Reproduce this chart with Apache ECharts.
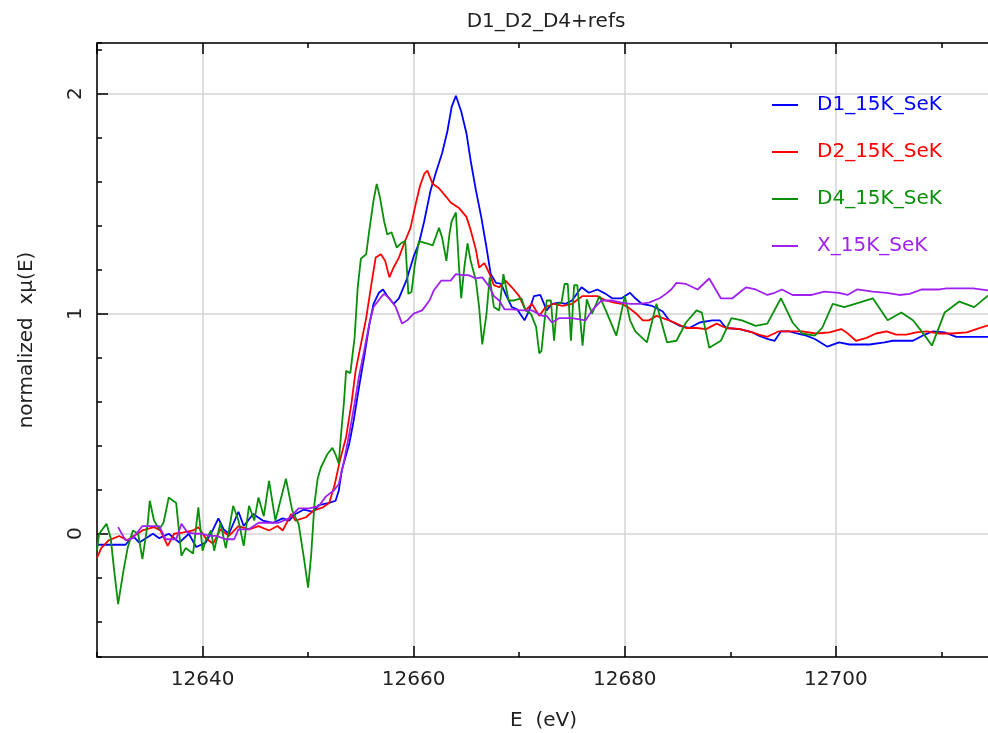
<!DOCTYPE html>
<html lang="en">
<head>
<meta charset="UTF-8">
<title>D1_D2_D4+refs</title>
<style>
  html, body { margin: 0; padding: 0; background: #fff; }
  #container { width: 988px; height: 733px; }
</style>
</head>
<body>
<div id="container"></div>
<script src="https://cdn.jsdelivr.net/npm/echarts@6/dist/echarts.min.js"></script>
<script>
// series names and colours
var names = ['D1_15K_SeK', 'D2_15K_SeK', 'D4_15K_SeK', 'X_15K_SeK'];
var colors = ['#0000ff', '#ff0000', '#0a8f0a', '#a020f0'];

// D1 (blue)
var d1E = [12630.0, 12632.7, 12633.4, 12634.0, 12635.3, 12635.9, 12636.8, 12637.8, 12638.7, 12639.4,
  12640.3, 12641.0, 12641.5, 12642.0, 12642.5, 12643.4, 12643.9, 12644.8, 12645.7, 12646.7,
  12647.6, 12648.2, 12648.8, 12649.6, 12650.5, 12651.0, 12652.0, 12652.6, 12652.9, 12653.2,
  12653.9, 12654.3, 12654.8, 12655.3, 12655.8, 12656.2, 12656.7, 12657.1, 12657.5, 12658.1,
  12658.6, 12659.3, 12660.0, 12660.5, 12661.0, 12661.6, 12662.1, 12662.7, 12663.2, 12663.6,
  12664.0, 12664.5, 12665.0, 12665.4, 12665.9, 12666.4, 12666.9, 12667.3, 12667.8, 12668.3,
  12668.7, 12669.3, 12669.8, 12670.5, 12670.9, 12671.4, 12672.0, 12672.3, 12672.6, 12673.1,
  12673.8, 12674.4, 12675.0, 12675.9, 12676.6, 12677.4, 12678.2, 12678.8, 12679.7, 12680.5,
  12681.0, 12681.6, 12682.6, 12683.6, 12684.2, 12685.2, 12686.1, 12687.1, 12688.3, 12689.0,
  12689.6, 12690.9, 12692.1, 12692.7, 12693.5, 12694.2, 12694.8, 12695.6, 12696.3, 12697.2,
  12698.0, 12699.2, 12700.3, 12701.3, 12703.2, 12704.6, 12705.4, 12707.3, 12708.2, 12709.2,
  12710.3, 12711.4, 12714.6];
var d1Mu = [-0.05, -0.05, -0.01, -0.04, 0.0, -0.02, 0.0, -0.04, 0.0, -0.06,
  -0.04, 0.02, 0.07, 0.02, 0.0, 0.1, 0.035, 0.09, 0.06, 0.05,
  0.07, 0.06, 0.09, 0.11, 0.1, 0.13, 0.14, 0.15, 0.195, 0.29,
  0.41, 0.51, 0.66, 0.8, 0.95, 1.045, 1.095, 1.11, 1.08, 1.045,
  1.07, 1.15, 1.26, 1.32, 1.42, 1.56, 1.64, 1.73, 1.83, 1.94,
  1.99, 1.92, 1.82, 1.695, 1.56, 1.44, 1.3, 1.18, 1.14, 1.135,
  1.09, 1.03, 1.02, 0.97, 1.01, 1.08, 1.085, 1.05, 1.015, 1.045,
  1.05, 1.045, 1.06, 1.12, 1.095, 1.11, 1.09, 1.07, 1.07, 1.095,
  1.07, 1.045, 1.035, 1.01, 0.97, 0.945, 0.935, 0.96, 0.97, 0.97,
  0.935, 0.93, 0.915, 0.9, 0.885, 0.877, 0.92, 0.92, 0.91, 0.9,
  0.885, 0.85, 0.87, 0.86, 0.86, 0.87, 0.877, 0.877, 0.9, 0.92,
  0.915, 0.895, 0.895];

// D2 (red)
var d2E = [12630.0, 12630.4, 12631.1, 12632.1, 12632.9, 12633.5, 12634.3, 12635.4, 12636.0, 12636.7,
  12637.3, 12638.1, 12639.1, 12639.6, 12640.3, 12641.0, 12641.7, 12642.5, 12643.4, 12644.4,
  12645.3, 12646.3, 12647.1, 12647.6, 12648.4, 12648.8, 12649.8, 12650.5, 12651.4, 12652.0,
  12652.5, 12653.0, 12653.6, 12654.1, 12654.5, 12655.0, 12655.5, 12656.0, 12656.4, 12656.9,
  12657.3, 12657.7, 12658.1, 12658.6, 12659.1, 12659.7, 12660.2, 12660.6, 12661.0, 12661.3,
  12661.8, 12662.4, 12663.1, 12663.5, 12664.3, 12665.0, 12665.4, 12665.9, 12666.2, 12666.7,
  12667.2, 12667.6, 12668.1, 12668.7, 12669.3, 12670.0, 12670.6, 12671.2, 12671.9, 12672.5,
  12673.3, 12674.1, 12675.0, 12676.0, 12677.4, 12678.2, 12679.0, 12679.7, 12680.3, 12681.1,
  12681.7, 12682.3, 12683.0, 12683.6, 12684.2, 12684.9, 12685.8, 12686.8, 12687.7, 12688.7,
  12689.6, 12690.9, 12692.1, 12692.7, 12693.5, 12694.6, 12695.6, 12696.8, 12698.1, 12699.4,
  12700.5, 12701.0, 12701.9, 12702.9, 12703.8, 12704.8, 12705.7, 12706.7, 12707.6, 12708.6,
  12709.8, 12711.0, 12712.4, 12713.3, 12714.6];
var d2Mu = [-0.11, -0.065, -0.03, -0.01, -0.03, -0.01, 0.015, 0.03, 0.015, -0.055,
  0.0, 0.005, 0.015, 0.03, -0.02, -0.045, 0.02, -0.01, 0.035, 0.02,
  0.035, 0.015, 0.035, 0.015, 0.09, 0.06, 0.075, 0.105, 0.12, 0.14,
  0.22, 0.33, 0.44, 0.59, 0.74, 0.86, 0.98, 1.135, 1.255, 1.27,
  1.24, 1.165, 1.21, 1.255, 1.32, 1.39, 1.5, 1.58, 1.635, 1.65,
  1.59, 1.57, 1.53, 1.505, 1.48, 1.44, 1.38, 1.29, 1.21, 1.23,
  1.18, 1.13, 1.12, 1.15, 1.12, 1.08, 1.015, 1.045, 0.99, 1.03,
  1.045, 1.035, 1.045, 1.08, 1.08, 1.06, 1.05, 1.045, 1.03, 1.0,
  0.97, 0.97, 0.99, 0.98, 0.97, 0.955, 0.935, 0.935, 0.93, 0.955,
  0.935, 0.93, 0.915, 0.905, 0.895, 0.92, 0.92, 0.92, 0.91, 0.915,
  0.93, 0.915, 0.877, 0.89, 0.91, 0.92, 0.905, 0.905, 0.915, 0.92,
  0.91, 0.91, 0.915, 0.93, 0.95];

// D4 (green)
var d4E = [12630.0, 12630.2, 12630.9, 12631.3, 12631.6, 12632.0, 12632.5, 12632.9, 12633.4, 12633.9,
  12634.3, 12634.8, 12635.0, 12635.4, 12635.9, 12636.3, 12636.8, 12637.5, 12638.0, 12638.4,
  12639.1, 12639.6, 12640.0, 12640.3, 12640.8, 12641.1, 12641.7, 12642.2, 12642.9, 12643.4,
  12643.9, 12644.4, 12644.9, 12645.3, 12645.8, 12646.3, 12646.9, 12647.9, 12648.5, 12649.1,
  12649.6, 12650.0, 12650.3, 12650.6, 12650.9, 12651.2, 12651.8, 12652.3, 12652.6, 12652.9,
  12653.1, 12653.4, 12653.6, 12654.0, 12654.4, 12654.7, 12655.0, 12655.5, 12655.8, 12656.2,
  12656.5, 12656.8, 12657.2, 12657.5, 12657.9, 12658.4, 12658.8, 12659.2, 12659.5, 12659.8,
  12660.1, 12660.5, 12661.2, 12661.8, 12662.4, 12662.7, 12663.1, 12663.4, 12663.6, 12664.0,
  12664.3, 12664.5, 12664.8, 12665.1, 12665.4, 12665.9, 12666.2, 12666.5, 12666.9, 12667.2,
  12667.6, 12668.1, 12668.5, 12669.0, 12669.5, 12670.2, 12670.6, 12671.1, 12671.6, 12671.9,
  12672.1, 12672.6, 12673.0, 12673.3, 12673.6, 12674.0, 12674.3, 12674.6, 12674.9, 12675.2,
  12675.5, 12676.0, 12676.4, 12676.9, 12677.6, 12678.2, 12679.2, 12680.0, 12680.5, 12681.0,
  12682.1, 12683.0, 12684.0, 12684.9, 12685.8, 12686.8, 12687.3, 12688.0, 12689.1, 12690.1,
  12691.1, 12692.4, 12693.5, 12694.8, 12695.9, 12696.8, 12698.0, 12698.7, 12699.7, 12700.8,
  12702.2, 12703.5, 12704.9, 12706.2, 12707.3, 12708.2, 12709.1, 12710.3, 12711.7, 12713.1,
  12714.6];
var d4Mu = [-0.077, 0.0, 0.045, -0.02, -0.155, -0.32, -0.17, -0.065, 0.015, 0.0,
  -0.115, 0.045, 0.15, 0.06, 0.02, 0.05, 0.165, 0.14, -0.1, -0.065,
  -0.09, 0.12, -0.077, -0.03, 0.015, -0.077, 0.05, -0.065, 0.127, 0.06,
  -0.055, 0.127, 0.06, 0.165, 0.08, 0.24, 0.06, 0.25, 0.105, 0.045,
  -0.11, -0.245, -0.09, 0.136, 0.25, 0.3, 0.36, 0.39, 0.36, 0.32,
  0.44, 0.6, 0.74, 0.73, 0.89, 1.12, 1.25, 1.27, 1.38, 1.515,
  1.59, 1.53, 1.42, 1.36, 1.37, 1.3, 1.32, 1.33, 1.09, 1.1,
  1.22, 1.33, 1.32, 1.31, 1.39, 1.345, 1.24, 1.365, 1.42, 1.46,
  1.21, 1.07, 1.21, 1.32, 1.24, 1.15, 1.03, 0.86, 1.0, 1.165,
  1.03, 1.015, 1.18, 1.06, 1.06, 1.07, 1.015, 1.0, 0.94, 0.82,
  0.83, 1.06, 1.06, 0.877, 1.045, 1.05, 1.135, 1.135, 0.877, 1.13,
  1.13, 0.855, 1.065, 1.0, 1.08, 1.015, 0.9, 1.08, 0.97, 0.92,
  0.87, 1.045, 0.87, 0.877, 0.96, 1.015, 1.005, 0.845, 0.877, 0.98,
  0.97, 0.945, 0.955, 1.07, 0.96, 0.91, 0.9, 0.935, 1.045, 1.03,
  1.05, 1.07, 0.97, 1.005, 0.97, 0.915, 0.855, 1.005, 1.055, 1.03,
  1.09];

// X reference (purple)
var xE = [12632.0, 12632.7, 12633.4, 12634.3, 12635.1, 12635.9, 12636.5, 12637.5, 12638.0, 12638.6,
  12639.4, 12640.0, 12640.6, 12641.3, 12642.2, 12643.0, 12643.4, 12644.4, 12645.3, 12646.3,
  12647.2, 12648.2, 12649.1, 12650.1, 12651.0, 12651.7, 12652.4, 12652.9, 12653.4, 12653.9,
  12654.4, 12654.8, 12655.3, 12655.8, 12656.2, 12656.9, 12657.2, 12657.7, 12658.3, 12658.9,
  12659.4, 12660.0, 12660.8, 12661.5, 12661.9, 12662.6, 12663.5, 12664.0, 12664.6, 12665.2,
  12665.9, 12666.5, 12667.2, 12667.6, 12668.1, 12668.6, 12669.3, 12670.3, 12671.2, 12672.2,
  12672.6, 12673.1, 12673.8, 12675.0, 12676.3, 12676.9, 12677.8, 12678.7, 12679.7, 12680.5,
  12681.4, 12682.3, 12683.3, 12683.9, 12684.4, 12684.9, 12685.8, 12686.9, 12688.0, 12689.1,
  12690.2, 12691.5, 12692.4, 12693.5, 12694.2, 12694.9, 12695.9, 12697.7, 12698.9, 12700.3,
  12701.1, 12702.0, 12703.5, 12704.8, 12706.0, 12707.0, 12708.1, 12709.8, 12710.5, 12713.0,
  12714.6];
var xMu = [0.03, -0.03, -0.02, 0.035, 0.035, 0.035, -0.025, -0.025, 0.045, 0.005,
  0.0, 0.0, -0.01, -0.01, -0.025, -0.025, 0.02, 0.02, 0.05, 0.05,
  0.05, 0.07, 0.115, 0.115, 0.125, 0.17, 0.195, 0.225, 0.33, 0.455,
  0.59, 0.71, 0.83, 0.955, 1.03, 1.075, 1.09, 1.07, 1.03, 0.955,
  0.97, 1.0, 1.015, 1.06, 1.105, 1.15, 1.15, 1.18, 1.175, 1.175,
  1.16, 1.165, 1.12, 1.08, 1.06, 1.02, 1.02, 1.015, 1.015, 0.99,
  0.99, 0.96, 0.98, 0.98, 0.97, 1.015, 1.06, 1.06, 1.05, 1.045,
  1.045, 1.05, 1.07, 1.09, 1.11, 1.14, 1.135, 1.11, 1.16, 1.07,
  1.07, 1.12, 1.11, 1.085, 1.095, 1.11, 1.085, 1.085, 1.1, 1.095,
  1.085, 1.11, 1.1, 1.095, 1.085, 1.09, 1.11, 1.11, 1.115, 1.115,
  1.105];

var xMin = 12630, xMax = 12714.6;
var yMin = -0.56, yMax = 2.23;

var energies = [d1E, d2E, d4E, xE];
var values = [d1Mu, d2Mu, d4Mu, xMu];

function pairs(e, v) {
  return e.map(function (x, i) { return [x, v[i]]; });
}

var font = 'DejaVu Sans';
var ink = '#222';

function xAxisCfg(pos, major) {
  return {
    type: 'value', position: pos, min: xMin, max: xMax,
    splitNumber: major ? 4 : 8,
    axisLine: { show: major, onZero: false, lineStyle: { color: '#000', width: 1.5 } },
    axisTick: { show: true, inside: true, length: major ? 11 : 5, lineStyle: { color: '#000', width: 1.5 } },
    axisLabel: { show: major && pos === 'bottom', showMinLabel: false, showMaxLabel: false,
      margin: 13, color: ink, fontFamily: font, fontSize: 20,
      formatter: function (v) { return String(v); } },
    splitLine: { show: major && pos === 'bottom', lineStyle: { color: '#d3d3d3', width: 1.5 } }
  };
}

function yAxisCfg(major) {
  return {
    type: 'value', position: 'left', min: yMin, max: yMax,
    splitNumber: major ? 3 : 12,
    axisLine: { show: major, onZero: false, lineStyle: { color: '#000', width: 1.5 } },
    axisTick: { show: true, inside: true, length: major ? 11 : 5, lineStyle: { color: '#000', width: 1.5 } },
    axisLabel: { show: major, rotate: 90, showMinLabel: false, showMaxLabel: false,
      margin: 11, color: ink, fontFamily: font, fontSize: 20,
      formatter: function (v) { return String(v); } },
    splitLine: { show: major, lineStyle: { color: '#d3d3d3', width: 1.5 } }
  };
}

var xAxes = [xAxisCfg('bottom', true), xAxisCfg('bottom', false), xAxisCfg('top', true), xAxisCfg('top', false)];
xAxes[0].name = 'E  (eV)';
xAxes[0].nameLocation = 'middle';
xAxes[0].nameGap = 54;
xAxes[0].nameTextStyle = { color: ink, fontFamily: font, fontSize: 20 };

var yAxes = [yAxisCfg(true), yAxisCfg(false)];
yAxes[0].name = 'normalized  x\u03bc(E)';
yAxes[0].nameLocation = 'middle';
yAxes[0].nameRotate = 90;
yAxes[0].nameGap = 60;
yAxes[0].nameTextStyle = { color: ink, fontFamily: font, fontSize: 20, padding: [0, 0, 0, 20] };

var chart = echarts.init(document.getElementById('container'), null, { renderer: 'canvas' });

var option = {
  animation: false,
  backgroundColor: '#fff',
  graphic: [{
    type: 'text', x: 546, y: 22,
    style: { text: 'D1_D2_D4+refs', fill: ink, font: '20px "DejaVu Sans"', textAlign: 'center', textVerticalAlign: 'middle' }
  }],
  grid: { left: 97, top: 43, width: 893, height: 614, containLabel: false, outerBoundsMode: 'none' },
  legend: {
    orient: 'vertical', left: 767, top: 90, itemWidth: 26, itemHeight: 2, itemGap: 27,
    icon: 'rect',
    data: names.map(function (n, i) {
      return { name: n, textStyle: { color: colors[i] } };
    }),
    textStyle: { fontFamily: font, fontSize: 20, lineHeight: 20, padding: [0, 0, 0, 14] }
  },
  xAxis: xAxes,
  yAxis: yAxes,
  series: names.map(function (n, i) {
    return {
      name: n, type: 'line', xAxisIndex: 0, yAxisIndex: 0,
      data: pairs(energies[i], values[i]),
      symbol: 'none', showSymbol: false,
      lineStyle: { color: colors[i], width: 1.8 },
      itemStyle: { color: colors[i] }
    };
  })
};

chart.setOption(option);
</script>
</body>
</html>
